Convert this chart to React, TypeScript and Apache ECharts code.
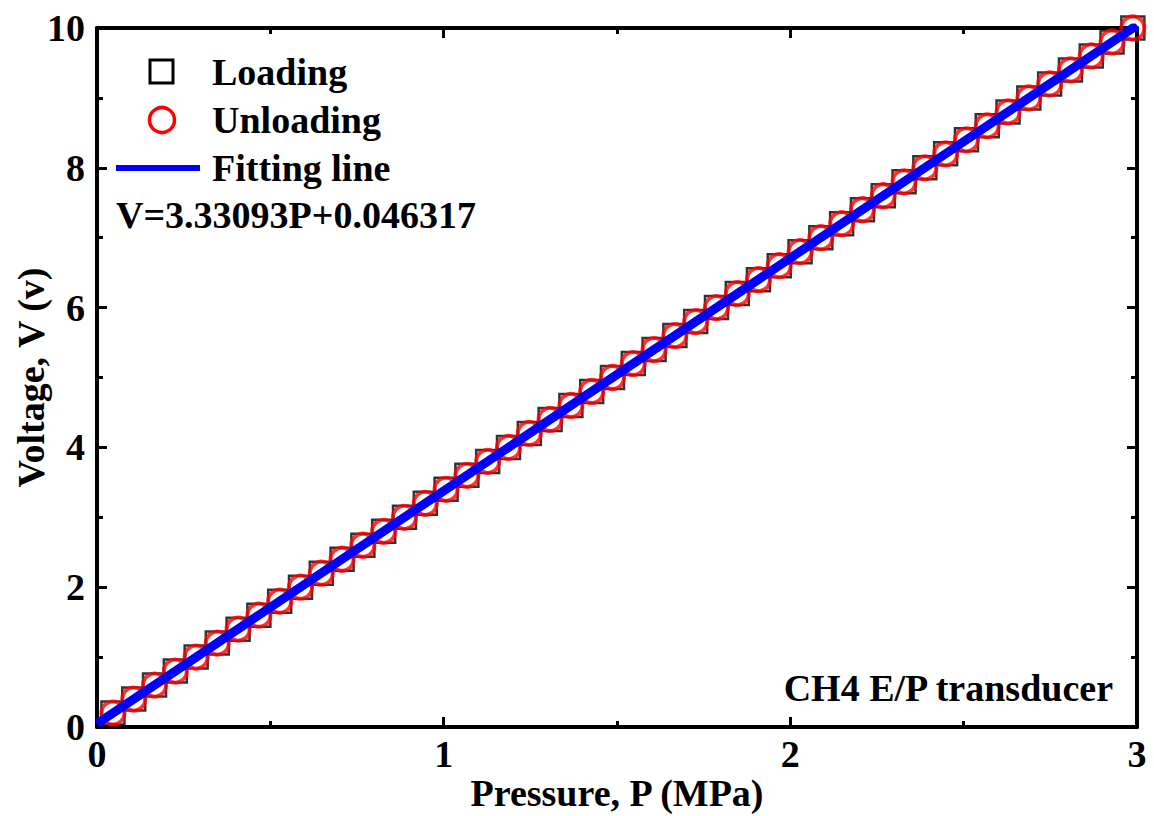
import React, { useEffect, useRef } from "react";
import * as echarts from "echarts";

// Measured voltages (V) and corresponding pressures (MPa)
const loadingP = [
  0.046, 0.106, 0.166, 0.226, 0.286, 0.347, 0.407, 0.467, 0.527, 0.587,
  0.647, 0.707, 0.767, 0.827, 0.887, 0.947, 1.007, 1.067, 1.127, 1.187,
  1.247, 1.307, 1.367, 1.427, 1.487, 1.547, 1.607, 1.667, 1.727, 1.787,
  1.847, 1.908, 1.968, 2.028, 2.088, 2.148, 2.208, 2.268, 2.328, 2.388,
  2.448, 2.508, 2.568, 2.628, 2.688, 2.748, 2.808, 2.868, 2.928, 2.988,
];
const loadingV = [
  0.2, 0.4, 0.6, 0.8, 1.0, 1.2, 1.4, 1.6, 1.8, 2.0,
  2.2, 2.4, 2.6, 2.8, 3.0, 3.2, 3.4, 3.6, 3.8, 4.0,
  4.2, 4.4, 4.6, 4.8, 5.0, 5.2, 5.4, 5.6, 5.8, 6.0,
  6.2, 6.4, 6.6, 6.8, 7.0, 7.2, 7.4, 7.6, 7.8, 8.0,
  8.2, 8.4, 8.6, 8.8, 9.0, 9.2, 9.4, 9.6, 9.8, 10.0,
];
const unloadingP = [
  0.046, 0.106, 0.166, 0.226, 0.286, 0.347, 0.407, 0.467, 0.527, 0.587,
  0.647, 0.707, 0.767, 0.827, 0.887, 0.947, 1.007, 1.067, 1.127, 1.187,
  1.247, 1.307, 1.367, 1.427, 1.487, 1.547, 1.607, 1.667, 1.727, 1.787,
  1.847, 1.908, 1.968, 2.028, 2.088, 2.148, 2.208, 2.268, 2.328, 2.388,
  2.448, 2.508, 2.568, 2.628, 2.688, 2.748, 2.808, 2.868, 2.928, 2.988,
];
const unloadingV = [
  0.2, 0.4, 0.6, 0.8, 1.0, 1.2, 1.4, 1.6, 1.8, 2.0,
  2.2, 2.4, 2.6, 2.8, 3.0, 3.2, 3.4, 3.6, 3.8, 4.0,
  4.2, 4.4, 4.6, 4.8, 5.0, 5.2, 5.4, 5.6, 5.8, 6.0,
  6.2, 6.4, 6.6, 6.8, 7.0, 7.2, 7.4, 7.6, 7.8, 8.0,
  8.2, 8.4, 8.6, 8.8, 9.0, 9.2, 9.4, 9.6, 9.8, 10.0,
];
const fitP = [0, 3];
const fitV = [0.046317, 10.039107];

const seriesNames = ["Loading", "Unloading", "Fitting line"];
const equationText = "V=3.33093P+0.046317";
const noteText = "CH4 E/P transducer";
const xName = "Pressure, P (MPa)";
const yName = "Voltage, V (v)";

const FONT = "'Liberation Serif', 'Times New Roman', serif";
const FS = 38;

export default function App() {
  const ref = useRef<HTMLDivElement>(null);
  useEffect(() => {
    if (!ref.current) return;
    const chart = echarts.init(ref.current, null, { renderer: "svg" });
    const zip = (a: number[], b: number[]) => a.map((v, i) => [v, b[i]]);
    const labelStyle = { color: "#000", fontFamily: FONT, fontWeight: "bold" as const, fontSize: FS };
    const axisLine = { show: true, onZero: false, lineStyle: { color: "#000", width: 4 } };
    const axisTick = { show: true, inside: true, length: 10, lineStyle: { color: "#000", width: 3 } };
    const minorTick = { show: true, splitNumber: 2, length: 6, lineStyle: { color: "#000", width: 3 } };
    const txt = (text: string, x: number, y: number, align: string = "left") => ({
      type: "text", x, y, z: 10,
      style: { text, fill: "#000", font: `bold ${FS}px ${FONT}`, align, verticalAlign: "middle" },
    });
    chart.setOption({
      animation: false,
      backgroundColor: "#fff",
      grid: { left: 97, right: 17, top: 28, bottom: 89, containLabel: false, outerBoundsMode: "none" },
      xAxis: [
        {
          type: "value", min: 0, max: 3, interval: 1, position: "bottom",
          name: xName, nameLocation: "middle", nameGap: 48, nameMoveOverlap: false,
          nameTextStyle: { ...labelStyle, lineHeight: 36 },
          axisLine, axisTick, minorTick,
          axisLabel: { ...labelStyle, margin: 8 },
          splitLine: { show: false },
        },
        {
          type: "value", min: 0, max: 3, interval: 1, position: "top",
          axisLine, axisTick, minorTick,
          axisLabel: { show: false }, splitLine: { show: false },
        },
      ],
      yAxis: [
        {
          type: "value", min: 0, max: 10, interval: 2, position: "left",
          name: yName, nameLocation: "middle", nameGap: 48, nameMoveOverlap: false,
          nameTextStyle: { ...labelStyle, lineHeight: 36 },
          axisLine, axisTick, minorTick,
          axisLabel: { ...labelStyle, margin: 12 },
          splitLine: { show: false },
        },
        {
          type: "value", min: 0, max: 10, interval: 2, position: "right",
          axisLine, axisTick, minorTick,
          axisLabel: { show: false }, splitLine: { show: false },
        },
      ],
      series: [
        {
          name: seriesNames[0], type: "scatter", data: zip(loadingP, loadingV),
          symbol: "rect", symbolSize: 23, z: 2,
          itemStyle: { color: "rgba(0,0,0,0)", borderColor: "#000", borderWidth: 2.5 },
        },
        {
          name: seriesNames[1], type: "scatter", data: zip(unloadingP, unloadingV),
          symbol: "circle", symbolSize: 23, z: 3,
          itemStyle: { color: "rgba(0,0,0,0)", borderColor: "#ff0000", borderWidth: 4 },
        },
        {
          name: seriesNames[2], type: "line", data: zip(fitP, fitV),
          symbol: "none", z: 4, clip: true,
          lineStyle: { color: "#0000ff", width: 9 },
        },
      ],
      graphic: [
        { type: "rect", shape: { x: 150, y: 60, width: 23, height: 23 }, style: { fill: "none", stroke: "#000", lineWidth: 3 } },
        txt(seriesNames[0], 212, 72),
        { type: "circle", shape: { cx: 162, cy: 120, r: 12.5 }, style: { fill: "none", stroke: "#ff0000", lineWidth: 3.5 } },
        txt(seriesNames[1], 212, 120),
        { type: "line", shape: { x1: 116, y1: 168, x2: 200, y2: 168 }, style: { stroke: "#0000ff", lineWidth: 6 } },
        txt(seriesNames[2], 212, 168),
        txt(equationText, 116, 215),
        txt(noteText, 1113, 688, "right"),
      ],
    });
    return () => chart.dispose();
  }, []);
  return <div ref={ref} style={{ width: 1154, height: 816, position: "absolute", left: 0, top: 0 }} />;
}
